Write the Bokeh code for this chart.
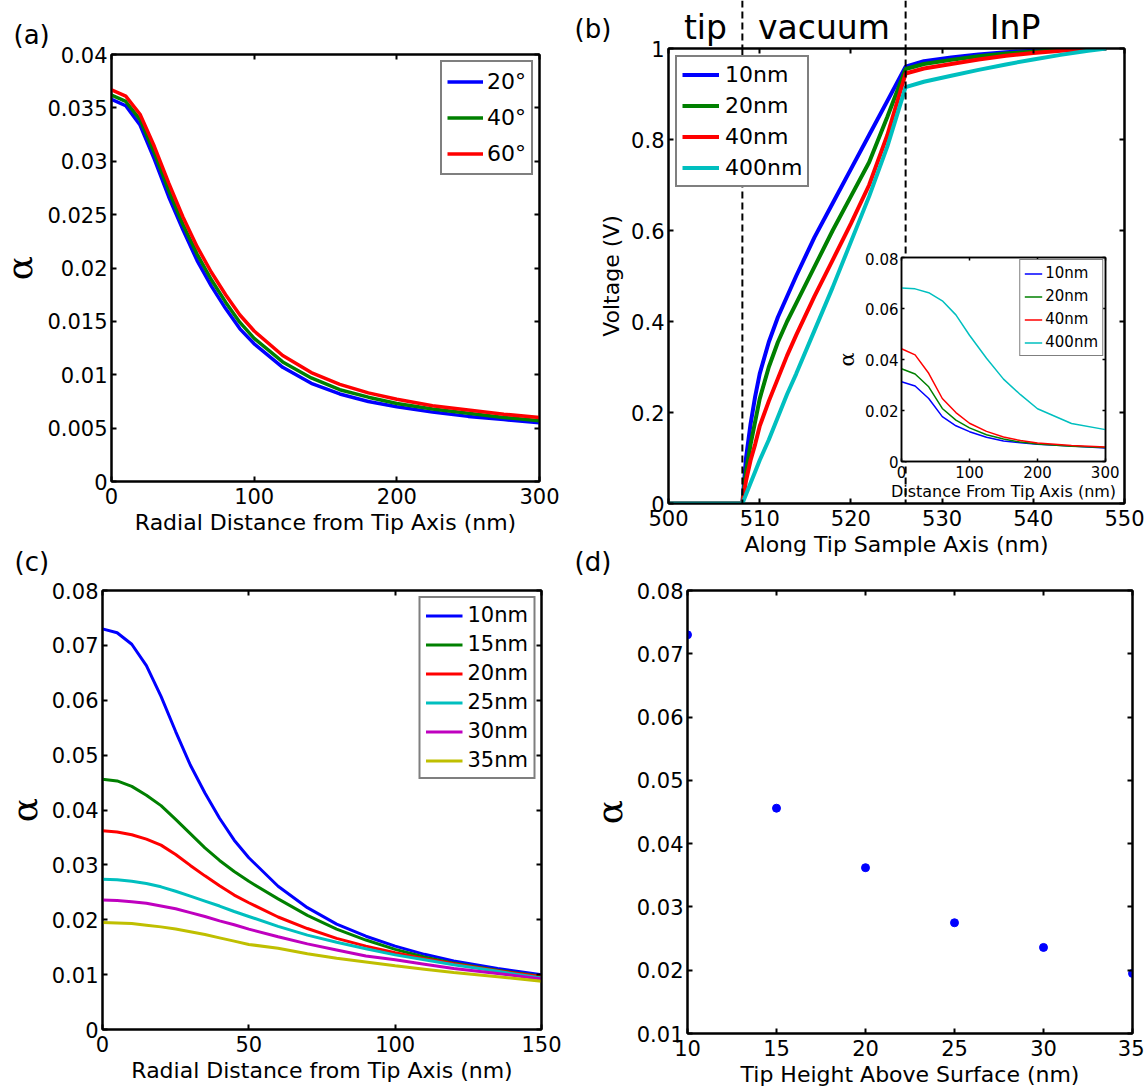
from bokeh.plotting import figure
from bokeh.models import (Range1d, FixedTicker, LinearAxis, Span, Legend, LegendItem,
                          CustomJSTickFormatter)
from bokeh.core.properties import value
from bokeh.embed import file_html
from bokeh.resources import INLINE

# ---------------- data: panel (a) ----------------
A_X = [0, 10, 20, 30, 40, 50, 60, 70, 80, 90, 100, 120, 140, 160, 180, 200, 225, 250, 275, 300]
A_20DEG = [0.0358, 0.0352, 0.0334, 0.0302, 0.0267, 0.0236, 0.0207, 0.0183, 0.0162, 0.0143,
           0.0129, 0.0107, 0.0092, 0.0082, 0.0075, 0.0070, 0.0065, 0.0061, 0.0058, 0.0055]
A_40DEG = [0.0362, 0.0356, 0.0339, 0.0308, 0.0273, 0.0241, 0.0213, 0.0189, 0.0168, 0.0149,
           0.0134, 0.0112, 0.0097, 0.0086, 0.0079, 0.0073, 0.0068, 0.0064, 0.0060, 0.0057]
A_60DEG = [0.0367, 0.0361, 0.0344, 0.0314, 0.0280, 0.0248, 0.0220, 0.0196, 0.0175, 0.0156,
           0.0141, 0.0118, 0.0102, 0.0091, 0.0083, 0.0077, 0.0071, 0.0067, 0.0063, 0.0060]
A_LABELS = ["20°", "40°", "60°"]
A_XTICKS = [0, 100, 200, 300]
A_YTICKS = [0, 0.005, 0.01, 0.015, 0.02, 0.025, 0.03, 0.035, 0.04]

# ---------------- data: panel (b) ----------------
B_X = [500, 508.1, 508.5, 509, 509.5, 510, 511, 512, 513, 514, 516, 518, 520, 522, 524, 526,
       528, 531, 534, 537, 540, 543, 546, 548]
B_10NM = [0, 0, 0.10, 0.175, 0.235, 0.285, 0.355, 0.41, 0.455, 0.50, 0.585, 0.66, 0.735, 0.81,
          0.885, 0.960, 0.972, 0.980, 0.987, 0.992, 0.995, 0.998, 1.0, 1.0]
B_20NM = [0, 0, 0.07, 0.13, 0.18, 0.23, 0.30, 0.355, 0.40, 0.44, 0.52, 0.60, 0.675, 0.75,
          0.85, 0.955, 0.966, 0.975, 0.983, 0.989, 0.993, 0.997, 1.0, 1.0]
B_40NM = [0, 0, 0.05, 0.095, 0.13, 0.17, 0.225, 0.275, 0.325, 0.37, 0.455, 0.535, 0.615, 0.70,
          0.81, 0.945, 0.956, 0.966, 0.976, 0.984, 0.99, 0.995, 0.999, 1.0]
B_400NM = [0, 0, 0.02, 0.045, 0.07, 0.095, 0.14, 0.19, 0.24, 0.285, 0.38, 0.475, 0.575, 0.675,
           0.785, 0.915, 0.927, 0.94, 0.953, 0.965, 0.976, 0.986, 0.995, 1.0]
B_LABELS = ["10nm", "20nm", "40nm", "400nm"]
B_XRANGE = [500, 550]
B_BOUNDS = [508.1, 526.0]
B_REGIONS = ["tip", "vacuum", "InP"]
B_XTICKS = [500, 510, 520, 530, 540, 550]
B_YTICKS = [0, 0.2, 0.4, 0.6, 0.8, 1]

# ---------------- data: inset of (b) ----------------
IN_X = [0, 20, 40, 60, 80, 100, 125, 150, 175, 200, 250, 300]
IN_10NM = [0.0313, 0.0296, 0.0247, 0.0176, 0.0140, 0.0117, 0.0095, 0.0080, 0.0074, 0.0068, 0.0061, 0.0053]
IN_20NM = [0.0364, 0.0343, 0.0293, 0.0208, 0.0162, 0.0132, 0.0105, 0.0088, 0.0076, 0.0069, 0.0060, 0.0055]
IN_40NM = [0.0442, 0.0418, 0.0346, 0.0247, 0.0192, 0.0150, 0.0118, 0.0096, 0.0082, 0.0073, 0.0063, 0.0057]
IN_400NM = [0.0680, 0.0677, 0.0662, 0.0630, 0.0575, 0.0495, 0.0405, 0.0323, 0.0262, 0.0207, 0.0149, 0.0125]
IN_XTICKS = [0, 100, 200, 300]
IN_YTICKS = [0, 0.02, 0.04, 0.06, 0.08]

# ---------------- data: panel (c) ----------------
C_X = [0, 5, 10, 15, 20, 25, 30, 35, 40, 45, 50, 60, 70, 80, 90, 100, 110, 120, 135, 150]
C_10NM = [0.0730, 0.0723, 0.0702, 0.0663, 0.0607, 0.0543, 0.0482, 0.0431, 0.0385, 0.0345,
          0.0313, 0.0261, 0.0222, 0.0192, 0.0170, 0.0152, 0.0137, 0.0125, 0.0111, 0.0100]
C_15NM = [0.0456, 0.0453, 0.0443, 0.0427, 0.0408, 0.0383, 0.0357, 0.0331, 0.0308, 0.0288,
          0.0270, 0.0238, 0.0208, 0.0183, 0.0163, 0.0146, 0.0132, 0.0121, 0.0108, 0.0097]
C_20NM = [0.0362, 0.0360, 0.0355, 0.0347, 0.0336, 0.0319, 0.0299, 0.0280, 0.0262, 0.0245,
          0.0231, 0.0205, 0.0184, 0.0166, 0.0152, 0.0140, 0.0129, 0.0120, 0.0107, 0.0096]
C_25NM = [0.0274, 0.0273, 0.0270, 0.0266, 0.0260, 0.0252, 0.0243, 0.0234, 0.0225, 0.0215,
          0.0206, 0.0188, 0.0172, 0.0159, 0.0147, 0.0136, 0.0127, 0.0118, 0.0106, 0.0094]
C_30NM = [0.0236, 0.0235, 0.0233, 0.0230, 0.0225, 0.0220, 0.0213, 0.0206, 0.0198, 0.0191,
          0.0183, 0.0169, 0.0156, 0.0145, 0.0134, 0.0127, 0.0119, 0.0111, 0.0102, 0.0092]
C_35NM = [0.0195, 0.0194, 0.0193, 0.0190, 0.0187, 0.0183, 0.0178, 0.0173, 0.0167, 0.0161,
          0.0155, 0.0148, 0.0138, 0.0130, 0.0123, 0.0116, 0.0110, 0.0104, 0.0096, 0.0088]
C_LABELS = ["10nm", "15nm", "20nm", "25nm", "30nm", "35nm"]
C_XTICKS = [0, 50, 100, 150]
C_YTICKS = [0, 0.01, 0.02, 0.03, 0.04, 0.05, 0.06, 0.07, 0.08]

# ---------------- data: panel (d) ----------------
D_HEIGHT = [10, 15, 20, 25, 30, 35]
D_ALPHA = [0.0730, 0.0456, 0.0362, 0.0275, 0.0236, 0.0195]
D_XTICKS = [10, 15, 20, 25, 30, 35]
D_YTICKS = [0.01, 0.02, 0.03, 0.04, 0.05, 0.06, 0.07, 0.08]

# MATLAB default line colours
BLUE, GREEN, RED = "#0000FF", "#008000", "#FF0000"
CYAN, MAGENTA, YELLOW = "#00BFBF", "#BF00BF", "#BFBF00"

SANS = "DejaVu Sans"
SERIF = "DejaVu Serif"


def panel(fw, fh, xr, yr, xticks, yticks, xlabel, ylabel, mb, title=None, title_offset=0,
          title_standoff=10, tick_size="21px", label_size="22px", ylabel_font=SANS,
          ylabel_size="22px", tick_len=5, lw=2, ylab_standoff=4, xlab_standoff=3,
          xtick_standoff=6, ytick_standoff=4):
    p = figure(frame_width=fw, frame_height=fh, x_range=Range1d(*xr), y_range=Range1d(*yr),
               output_backend="svg", toolbar_location=None, tools="", title=title,
               min_border_left=mb[0], min_border_right=mb[1],
               min_border_top=mb[2], min_border_bottom=mb[3])
    p.background_fill_color = "white"
    p.border_fill_color = None
    p.outline_line_color = "black"
    p.outline_line_width = lw
    p.xgrid.visible = False
    p.ygrid.visible = False
    p.add_layout(LinearAxis(), "above")
    p.add_layout(LinearAxis(), "right")
    bottom, left, top, right = p.below[0], p.left[0], p.above[-1], p.right[0]
    for ax, ticks in ((bottom, xticks), (top, xticks), (left, yticks), (right, yticks)):
        ax.ticker = FixedTicker(ticks=ticks, minor_ticks=[])
        ax.major_tick_in = tick_len
        ax.major_tick_out = 0
        ax.minor_tick_line_color = None
        ax.major_tick_line_width = lw
        ax.major_tick_line_color = "black"
        ax.axis_line_width = lw
        ax.axis_line_color = "black"
        ax.major_label_text_font = SANS
        ax.major_label_text_color = "black"
    for ax in (bottom, left):
        ax.formatter = CustomJSTickFormatter(code="return tick.toString()")
        ax.major_label_text_font_size = tick_size
        ax.axis_label_text_font_style = "normal"
        ax.axis_label_text_color = "black"
    for ax in (top, right):
        ax.formatter = CustomJSTickFormatter(code="return ''")
        ax.major_label_text_font_size = "0px"
        ax.major_label_standoff = 0
    bottom.major_label_standoff = xtick_standoff
    left.major_label_standoff = ytick_standoff
    bottom.axis_label = xlabel
    bottom.axis_label_text_font = SANS
    bottom.axis_label_text_font_size = label_size
    bottom.axis_label_standoff = xlab_standoff
    left.axis_label = ylabel
    left.axis_label_text_font = ylabel_font
    left.axis_label_text_font_size = ylabel_size
    left.axis_label_standoff = ylab_standoff
    if title is not None:
        p.title.align = "left"
        p.title.offset = title_offset
        p.title.standoff = title_standoff
        p.title.text_font = SANS
        p.title.text_font_size = "26px"
        p.title.text_font_style = "normal"
        p.title.text_color = "black"
    return p


def add_legend(p, renderers, labels, loc, font_size, glyph_w, item_h, spacing, padding,
               margin, border_w, standoff):
    leg = Legend(items=[LegendItem(label=value(l), renderers=[r]) for l, r in zip(labels, renderers)],
                 location=loc, orientation="vertical",
                 label_text_font=SANS, label_text_font_size=font_size, label_text_color="black",
                 glyph_width=glyph_w, glyph_height=item_h, label_height=item_h,
                 spacing=spacing, padding=padding, margin=margin, label_standoff=standoff,
                 border_line_color="black", border_line_width=border_w,
                 background_fill_color="white", background_fill_alpha=1.0)
    p.add_layout(leg)


# ---------------- panel (a) ----------------
pa = panel(428, 427, (0, 300), (0, 0.04), A_XTICKS, A_YTICKS,
           "Radial Distance from Tip Axis (nm)", "α", (120, 20, 58, 70),
           title="(a)", title_offset=-98, ylabel_font=SERIF, ylabel_size="36px")
ra = [pa.line(A_X, ys, line_color=c, line_width=3.5)
      for ys, c in ((A_20DEG, BLUE), (A_40DEG, GREEN), (A_60DEG, RED))]
add_legend(pa, ra, A_LABELS, "top_right", "22px", 36, 29, 7, 5, 6, 2, 4)

# ---------------- panel (b) ----------------
pb = panel(456, 455, B_XRANGE, (0, 1), B_XTICKS, B_YTICKS,
           "Along Tip Sample Axis (nm)", "Voltage (V)", (100, 20, 48, 62),
           title="(b)", title_offset=-94)
for b in B_BOUNDS:
    pb.add_layout(Span(location=b, dimension="height", line_color="black",
                       line_width=2, line_dash="7 4"))
rb = [pb.line(B_X, ys, line_color=c, line_width=4)
      for ys, c in ((B_10NM, BLUE), (B_20NM, GREEN), (B_40NM, RED), (B_400NM, CYAN))]
add_legend(pb, rb, B_LABELS, "top_left", "22px", 37, 23, 6, 5, 7, 2, 6)

# header strip above (b): region boundaries continue and region names
pbh = figure(frame_width=456, frame_height=48, x_range=pb.x_range, y_range=Range1d(0, 1),
             output_backend="svg", toolbar_location=None, tools="", title=None,
             x_axis_type=None, y_axis_type=None, min_border=0)
pbh.outline_line_color = None
pbh.background_fill_color = None
pbh.border_fill_color = None
pbh.xgrid.visible = False
pbh.ygrid.visible = False
for b in B_BOUNDS:
    pbh.add_layout(Span(location=b, dimension="height", line_color="black",
                        line_width=2, line_dash="7 4"))
edges = [B_XRANGE[0]] + B_BOUNDS + [B_XRANGE[1]]
centers = [(edges[i] + edges[i + 1]) / 2 for i in range(len(B_REGIONS))]
pbh.text(x=centers, y=[0.44] * len(centers), text=B_REGIONS, text_font=value(SANS),
         text_font_size="33px", text_align="center", text_baseline="middle",
         text_color="black")

# inset
pin = panel(204, 204, (0, 300), (0, 0.08), IN_XTICKS, IN_YTICKS,
            "Distance From Tip Axis (nm)", "α", (70, 14, 5, 42),
            tick_size="15px", label_size="16px", ylabel_font=SERIF, ylabel_size="21px",
            tick_len=3, lw=1.5, ylab_standoff=3, xlab_standoff=1, xtick_standoff=4, ytick_standoff=3)
rin = [pin.line(IN_X, ys, line_color=c, line_width=1.5)
       for ys, c in ((IN_10NM, BLUE), (IN_20NM, GREEN), (IN_40NM, RED), (IN_400NM, CYAN))]
add_legend(pin, rin, B_LABELS, "top_right", "15px", 18, 15, 5, 4, 2, 1.5, 3)

# ---------------- panel (c) ----------------
pc = panel(439, 439, (0, 150), (0, 0.08), C_XTICKS, C_YTICKS,
           "Radial Distance from Tip Axis (nm)", "α", (101, 20, 70, 60),
           title="(c)", title_offset=-88, title_standoff=28, ylabel_font=SERIF, ylabel_size="36px")
rc = [pc.line(C_X, ys, line_color=c, line_width=3)
      for ys, c in ((C_10NM, BLUE), (C_15NM, GREEN), (C_20NM, RED),
                    (C_25NM, CYAN), (C_30NM, MAGENTA), (C_35NM, YELLOW))]
add_legend(pc, rc, C_LABELS, "top_right", "21px", 37, 23, 5, 5, 6, 2, 5)

# ---------------- panel (d) ----------------
pd = panel(445, 443, (10, 35), (0.01, 0.08), D_XTICKS, D_YTICKS,
           "Tip Height Above Surface (nm)", "α", (119, 12, 70, 55),
           title="(d)", title_offset=-113, title_standoff=28, ylabel_font=SERIF, ylabel_size="36px")
pd.scatter(D_HEIGHT, D_ALPHA, size=8, color=BLUE)

# ---------------- absolute placement (independent roots, no layout alignment) ----------------
placement = [(pa, -9, -4), (pc, 0, 520), (pd, 568, 520), (pb, 568, 0), (pbh, 668, 0), (pin, 831, 252)]
for f, left, top in placement:
    f.styles = {"position": "absolute", "left": f"{left}px", "top": f"{top}px"}

roots = [f for f, _, _ in placement]
open("out.html", "w").write(file_html(roots, INLINE, title="alpha figure"))
